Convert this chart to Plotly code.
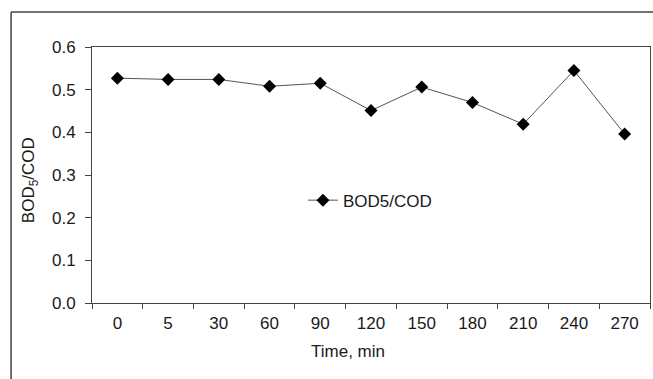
import plotly.graph_objects as go

time_labels = ["0", "5", "30", "60", "90", "120", "150", "180", "210", "240", "270"]
bod_cod = [0.527, 0.524, 0.524, 0.508, 0.515, 0.451, 0.506, 0.470, 0.419, 0.545, 0.396]
x_title = "Time, min"
y_title = "BOD<sub>5</sub>/COD"

fig = go.Figure()
fig.add_trace(go.Scatter(
    x=time_labels, y=bod_cod, mode="lines+markers", name="BOD5/COD",
    line=dict(color="#555555", width=1),
    marker=dict(symbol="diamond", size=10, color="black"),
))

fam = "Liberation Sans, Arial, sans-serif"
col = "#1a1a1a"
tfont = dict(family=fam, size=17, color=col)

fig.update_layout(
    width=653, height=379,
    margin=dict(l=92, r=3, t=47, b=76),
    paper_bgcolor="white", plot_bgcolor="white",
    font=tfont,
    showlegend=True,
    legend=dict(x=0.378, y=0.40, xanchor="left", yanchor="middle",
                bgcolor="rgba(0,0,0,0)", font=tfont),
    xaxis=dict(type="category", range=[-0.5, len(time_labels) - 0.5],
               tickson="boundaries", ticks="outside", ticklen=5,
               tickcolor="#444444", showline=True, linecolor="#444444", linewidth=1,
               mirror=True, showgrid=False, zeroline=False, ticklabelstandoff=5,
               tickfont=tfont),
    yaxis=dict(range=[0, 0.6], dtick=0.1, tickformat=".1f", ticks="outside", ticklen=6,
               tickcolor="#444444", showline=True, linecolor="#444444", linewidth=1,
               mirror=True, showgrid=False, zeroline=False, ticklabelstandoff=6,
               tickfont=tfont),
    annotations=[
        dict(text=x_title, xref="paper", yref="paper", x=0.459, y=-0.19,
             xanchor="center", yanchor="middle", showarrow=False, font=tfont),
        dict(text=y_title, xref="paper", yref="paper", x=-0.111, y=0.48,
             xanchor="center", yanchor="middle", showarrow=False, textangle=-90, font=tfont),
    ],
    shapes=[
        dict(type="line", xref="paper", yref="paper", x0=-0.145, x1=1.01, y0=1.137, y1=1.137,
             line=dict(color="#444444", width=1.5)),
        dict(type="line", xref="paper", yref="paper", x0=-0.145, x1=-0.145, y0=-0.3, y1=1.137,
             line=dict(color="#444444", width=1.5)),
    ],
)

fig.write_html("out.html")
